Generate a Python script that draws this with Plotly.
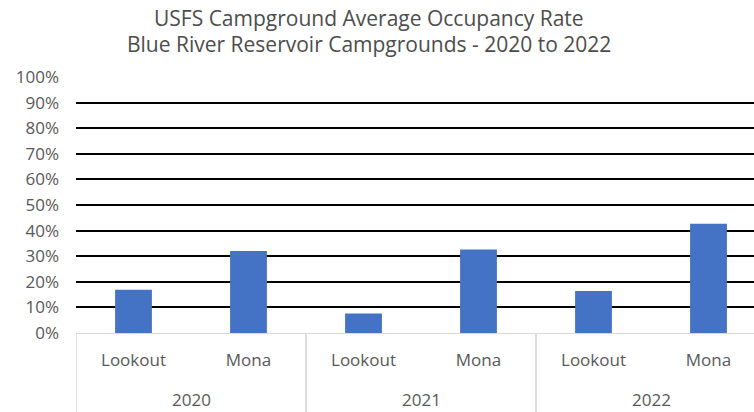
import plotly.graph_objects as go

years = ["2020", "2020", "2021", "2021", "2022", "2022"]
sites = ["Lookout", "Mona", "Lookout", "Mona", "Lookout", "Mona"]
occupancy = [0.169, 0.320, 0.076, 0.326, 0.164, 0.427]
y_ticks = [0, 0.1, 0.2, 0.3, 0.4, 0.5, 0.6, 0.7, 0.8, 0.9, 1.0]
title_lines = ["USFS Campground Average Occupancy Rate",
               "Blue River Reservoir Campgrounds - 2020 to 2022"]

FONT = "Open Sans, sans-serif"
TXT = "#595959"
DIV = "#d9d9d9"

keys = [f"{y} {s}" for y, s in zip(years, sites)]

fig = go.Figure(go.Bar(
    x=keys, y=occupancy,
    marker=dict(color="#4472C4", line=dict(width=0)),
    width=0.32,
))

# year group labels and dividers, positioned from the category indices
year_order = list(dict.fromkeys(years))
annotations = []
shapes = []
for yr in year_order:
    idx = [i for i, y in enumerate(years) if y == yr]
    center = sum(idx) / len(idx)
    annotations.append(dict(x=center, y=-0.258, xref="x", yref="paper",
                            text=yr, showarrow=False, yanchor="middle",
                            font=dict(family=FONT, size=17, color=TXT)))
    for b in (idx[0] - 0.5, idx[-1] + 0.5):
        shapes.append(dict(type="line", xref="x", yref="paper",
                           x0=b, x1=b, y0=0, y1=-0.31,
                           line=dict(color=DIV, width=1.3)))

annotations.append(dict(x=0.432, y=1.232, xref="paper", yref="paper",
                        text=title_lines[0], showarrow=False, yanchor="middle",
                        font=dict(family=FONT, size=21, color="#4d4d4d")))
annotations.append(dict(x=0.432, y=1.13, xref="paper", yref="paper",
                        text=title_lines[1], showarrow=False, yanchor="middle",
                        font=dict(family=FONT, size=21, color="#4d4d4d")))

fig.update_layout(
    width=754, height=412,
    margin=dict(l=76, r=0, t=77, b=79),
    paper_bgcolor="white", plot_bgcolor="white",
    showlegend=False,
    annotations=annotations,
    shapes=shapes,
    xaxis=dict(
        type="category",
        tickvals=keys, ticktext=sites,
        range=[-0.5, -0.5 + 678 / 115],
        showgrid=False, zeroline=False, automargin=False,
        showline=True, linecolor=DIV, linewidth=1.3,
        ticks="", ticklabelstandoff=11,
        tickfont=dict(family=FONT, size=17, color=TXT),
    ),
    yaxis=dict(
        range=[0, 1.0], tickvals=y_ticks, tickformat=".0%",
        showgrid=True, gridcolor="#000000", gridwidth=1.8,
        zeroline=False, showline=False, automargin=False,
        ticks="", ticklabelstandoff=16,
        tickfont=dict(family=FONT, size=17, color=TXT),
    ),
)

fig.write_html(
    "out.html",
    config={"displayModeBar": False},
    post_script="document.body.style.margin='0';document.body.style.overflow='hidden';",
)
